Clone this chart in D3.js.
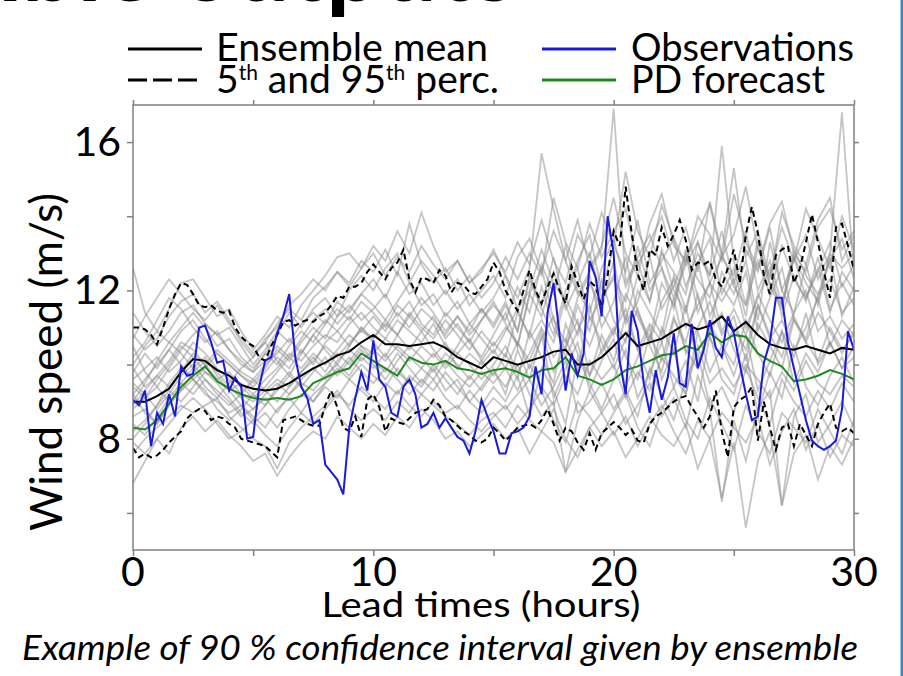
<!DOCTYPE html>
<html lang="en">
<head>
<meta charset="utf-8">
<script src="https://cdn.jsdelivr.net/npm/d3@7/dist/d3.min.js"></script>
<style>
  body { margin: 0; background: #fff; }
  svg text { font-family: Lato, "Open Sans", sans-serif; fill: #000; }
</style>
</head>
<body>
<div id="chart"></div>
<script>
  // ---- data (wind speed, m/s) ----
  // quarter-hour steps, 0..30 h
  const observations = [
    9.05, 8.9, 9.3, 7.8, 8.7, 8.4, 9.2, 8.6,
    9.95, 9.7, 9.75, 11.0, 11.05, 10.6, 10.05, 10.1,
    9.3, 9.65, 9.4, 8.0, 8.05, 9.4, 10.1, 10.2,
    10.85, 11.3, 11.9, 10.2, 9.4, 9.1, 8.4, 8.5,
    7.3, 7.1, 6.9, 6.5, 8.3, 9.1, 9.8, 9.3,
    10.65, 9.6, 9.4, 8.7, 8.6, 9.4, 9.6, 9.2,
    8.3, 8.4, 8.7, 8.3, 8.55, 8.3, 8.05, 7.95,
    7.6, 8.2, 9.05, 8.6, 8.2, 7.6, 7.6, 8.15,
    8.2, 8.3, 8.6, 9.95, 9.2, 11.4, 12.2, 10.8,
    9.3, 10.3, 9.7, 10.3, 12.8, 12.35, 11.3, 14.0,
    13.0, 10.1, 9.2, 11.45, 10.9, 9.5, 8.7, 9.85,
    9.05, 9.65, 10.85, 9.5, 9.4, 11.1, 9.9, 10.4,
    11.2, 10.45, 10.2, 11.3, 10.85, 10.0, 9.2, 8.5,
    8.6, 10.05, 10.6, 11.8, 11.8, 10.6, 9.9, 9.2,
    8.5, 7.95, 7.8, 7.7, 7.8, 7.95, 8.8, 10.9,
    10.4
  ];
  const perc95 = [
    11.0, 11.0, 10.95, 10.8, 10.55, 11.0, 11.5, 11.9,
    12.2, 12.15, 11.9, 11.6, 11.55, 11.6, 11.45, 11.4,
    11.45, 11.0, 10.75, 10.6, 10.5, 10.2, 10.1, 10.5,
    10.8, 11.15, 11.2, 11.05, 11.15, 11.2, 11.15, 11.3,
    11.4, 11.6, 11.85, 11.8, 12.1, 12.1, 12.2, 12.5,
    12.7, 12.5, 12.3, 12.6, 12.75, 13.1, 12.3, 11.95,
    12.35, 12.3, 12.2, 12.55, 12.4, 11.95, 12.2, 12.15,
    11.95, 11.9, 12.1, 12.3, 12.75, 12.5, 12.0, 11.7,
    11.45, 12.0, 12.55, 12.0, 11.65, 12.1, 12.45, 12.0,
    11.65, 12.65, 12.2, 11.75, 12.25, 12.1, 11.55, 12.4,
    13.6, 13.2, 14.8, 13.55, 12.45, 12.0, 13.1, 12.95,
    13.7, 13.2, 13.5, 13.9, 13.35, 12.55, 12.75, 12.7,
    12.8, 12.3, 12.1, 12.6, 13.1, 12.2, 13.5, 14.25,
    13.55, 12.4, 11.9, 12.95, 13.1, 13.2, 12.2, 12.6,
    13.3, 14.05, 13.3, 12.5, 11.8, 13.7, 13.8, 13.2,
    12.55
  ];
  const perc5 = [
    7.75, 7.5, 7.6, 7.5, 7.55, 7.7, 7.9, 8.05,
    8.2, 8.55, 8.7, 8.8, 8.75, 8.5, 8.6, 8.55,
    8.4, 8.3, 8.0, 7.95, 7.9, 7.85, 7.8, 7.65,
    7.5, 8.5, 8.55, 8.6, 8.5, 8.4, 8.35, 8.35,
    8.9, 9.3, 8.85, 8.3, 8.2, 8.6, 8.05, 9.05,
    9.2, 8.85, 8.2, 8.55, 8.45, 8.4, 8.55, 8.7,
    8.75, 8.8, 9.05, 8.9, 8.6, 8.5, 8.35, 8.2,
    8.1, 7.95, 7.9, 8.0, 8.3, 8.15, 7.95, 8.1,
    8.3, 8.35, 8.4, 8.3, 8.5, 8.8, 8.4, 7.95,
    8.3, 8.2, 7.9, 7.7, 8.15, 7.7, 8.15, 8.3,
    8.45, 8.3, 8.1, 8.25, 7.95, 7.9, 8.4, 8.6,
    8.7, 8.85, 9.0, 9.1, 9.15, 8.85, 8.6, 8.3,
    8.6, 9.3, 8.2, 7.5, 8.85, 9.05, 9.15, 9.4,
    7.95, 9.0, 8.3, 7.7, 8.3, 8.4, 7.8, 8.4,
    8.1, 7.8, 8.4, 8.7, 8.95, 8.3, 8.2, 8.3,
    8.15
  ];
  // half-hour steps, 0..30 h
  const ensembleMean = [
    9.0, 9.0, 9.15, 9.35, 9.8, 10.15, 10.1, 9.85, 9.7, 9.45,
    9.35, 9.3, 9.35, 9.5, 9.7, 9.9, 10.05, 10.25, 10.35, 10.6,
    10.8, 10.55, 10.55, 10.5, 10.55, 10.6, 10.45, 10.2, 10.05, 9.9,
    10.2, 10.1, 10.0, 10.1, 10.2, 10.35, 10.4, 10.0, 10.0, 10.2,
    10.5, 10.85, 10.5, 10.6, 10.7, 10.9, 11.1, 10.95, 11.05, 11.3,
    10.9, 11.15, 10.8, 10.55, 10.45, 10.4, 10.5, 10.4, 10.3, 10.45,
    10.4
  ];
  const pdForecast = [
    8.3, 8.25, 8.5, 8.95, 9.4, 9.7, 9.95, 9.55, 9.35, 9.2,
    9.1, 9.05, 9.1, 9.05, 9.15, 9.5, 9.65, 9.8, 9.9, 10.3,
    10.1, 9.9, 9.7, 10.2, 10.05, 10.0, 10.1, 9.9, 9.85, 9.75,
    9.85, 9.9, 9.8, 9.65, 9.85, 9.9, 10.2, 9.7, 9.6, 9.45,
    9.6, 9.85, 9.95, 10.1, 10.25, 10.3, 10.5, 10.4, 10.85, 10.6,
    10.8, 10.75, 10.3, 10.1, 9.95, 9.55, 9.6, 9.7, 9.85, 9.75,
    9.6
  ];
  // ensemble members (light grey), half-hour steps
  const member01 = [12.6, 11.4, 10.9, 11.5, 12.2, 12.3, 11.8, 11.3, 11.5, 10.9, 10.4, 10.8, 11.3, 11.0, 11.6, 12.0, 12.4, 12.9, 13.0, 12.6, 13.2, 12.8, 13.6, 13.0, 14.1, 13.2, 12.5, 12.8, 12.2, 12.5, 13.1, 12.4, 11.8, 12.6, 15.7, 14.2, 12.8, 11.9, 12.5, 13.1, 16.9, 12.2, 12.9, 13.5, 12.6, 11.8, 12.7, 13.3, 12.4, 15.9, 12.8, 11.6, 13.4, 12.1, 11.5, 12.9, 12.2, 11.7, 13.0, 16.8, 12.4];
  const member02 = [6.8, 7.4, 8.0, 7.6, 8.3, 8.6, 8.2, 8.5, 8.1, 7.8, 7.4, 7.6, 7.0, 7.5, 7.9, 8.2, 8.0, 8.6, 8.3, 8.0, 8.4, 8.1, 8.6, 8.3, 8.8, 8.5, 8.0, 8.2, 7.8, 8.1, 8.4, 8.0, 8.3, 7.6, 8.2, 7.9, 7.1, 7.7, 8.3, 7.8, 8.2, 7.5, 8.0, 8.6, 8.1, 7.8, 8.4, 7.2, 8.0, 6.4, 7.9, 5.6, 7.4, 8.2, 6.2, 7.6, 8.1, 6.9, 7.8, 7.3, 8.0];
  const member03 = [10.2, 10.6, 11.2, 11.8, 11.5, 11.0, 10.6, 10.9, 10.4, 10.0, 9.8, 10.3, 10.8, 11.4, 11.0, 11.5, 11.8, 11.3, 12.0, 12.4, 12.0, 12.6, 13.0, 12.2, 12.8, 12.4, 11.9, 12.3, 11.6, 12.0, 12.4, 11.8, 12.9, 13.4, 12.5, 13.6, 12.8, 13.9, 12.6, 13.2, 14.5, 13.0, 12.4, 13.8, 14.6, 13.2, 12.8, 13.6, 14.3, 12.9, 13.5, 14.8, 13.1, 12.4, 13.7, 12.8, 14.2, 13.4, 12.6, 14.0, 13.1];
  const member04 = [9.4, 9.1, 9.6, 10.0, 10.5, 10.2, 9.8, 9.6, 9.3, 9.5, 9.2, 9.6, 9.9, 10.3, 10.1, 10.5, 10.8, 10.6, 11.1, 11.4, 11.0, 10.7, 11.2, 10.9, 10.6, 11.1, 10.5, 10.3, 10.7, 10.1, 10.6, 10.2, 11.4, 10.8, 12.1, 11.0, 10.4, 11.6, 10.9, 12.3, 11.2, 10.6, 12.0, 11.4, 10.8, 12.4, 11.5, 12.8, 11.3, 12.1, 11.6, 12.5, 10.9, 11.8, 12.6, 11.2, 10.7, 11.9, 12.3, 11.4, 11.8];
  const member05 = [8.6, 8.8, 8.4, 8.9, 9.3, 9.6, 9.2, 9.0, 8.7, 8.9, 8.6, 8.3, 8.8, 9.1, 8.7, 9.2, 9.5, 9.9, 9.6, 10.0, 9.7, 9.4, 9.9, 9.5, 9.2, 9.6, 9.1, 8.8, 9.3, 8.9, 9.4, 9.0, 9.7, 8.6, 9.9, 9.3, 8.4, 10.2, 9.5, 8.8, 9.6, 10.4, 9.1, 9.8, 10.6, 9.4, 10.1, 9.0, 10.8, 9.6, 9.2, 10.3, 8.7, 9.8, 9.1, 10.5, 9.4, 8.9, 9.7, 10.2, 9.5];
  const member06 = [9.8, 10.3, 9.9, 10.4, 10.9, 11.2, 10.7, 10.3, 10.0, 9.7, 9.5, 9.9, 10.4, 10.1, 10.6, 11.0, 10.7, 11.3, 11.6, 11.2, 11.5, 11.9, 11.3, 11.7, 11.1, 10.8, 11.4, 11.0, 10.6, 11.2, 11.7, 11.1, 10.5, 11.9, 11.3, 12.5, 11.6, 10.8, 12.2, 11.5, 12.8, 11.2, 12.4, 11.7, 13.1, 12.0, 11.4, 12.7, 13.4, 11.9, 12.6, 11.3, 13.2, 12.2, 11.6, 12.9, 11.8, 12.5, 13.3, 12.1, 12.7];
  const member07 = [8.2, 8.5, 8.9, 9.3, 9.0, 9.4, 9.8, 9.5, 9.1, 8.7, 8.4, 8.7, 8.3, 8.8, 9.2, 9.0, 9.4, 9.1, 9.6, 9.3, 9.0, 9.5, 9.2, 9.7, 9.4, 9.9, 9.3, 9.6, 9.0, 8.7, 9.1, 8.8, 9.2, 9.6, 8.9, 9.4, 10.1, 8.7, 9.0, 9.5, 8.8, 9.3, 8.6, 9.9, 9.2, 8.5, 9.6, 10.3, 8.9, 9.4, 8.7, 9.9, 9.1, 8.4, 9.6, 9.0, 8.6, 9.3, 8.8, 9.5, 9.0];
  const member08 = [9.0, 9.5, 10.1, 10.6, 10.3, 9.9, 9.4, 9.1, 9.5, 9.9, 10.2, 10.6, 10.1, 9.7, 10.3, 10.8, 10.4, 10.0, 10.5, 11.0, 10.6, 10.2, 10.8, 11.3, 10.9, 10.4, 10.0, 10.5, 11.1, 10.7, 10.3, 10.9, 11.5, 10.7, 11.2, 10.6, 11.8, 11.1, 10.5, 11.4, 10.8, 11.9, 11.3, 10.6, 11.7, 12.3, 11.0, 11.6, 12.2, 10.9, 11.5, 10.8, 11.9, 11.2, 10.6, 11.4, 12.0, 10.9, 11.3, 10.7, 11.1];
  const member09 = [9.2, 8.7, 8.4, 8.9, 9.5, 9.9, 10.2, 9.7, 9.3, 8.9, 8.5, 8.9, 9.4, 9.8, 9.4, 9.8, 10.2, 9.7, 10.1, 10.5, 10.1, 9.8, 10.3, 9.9, 9.5, 10.0, 9.6, 9.2, 9.7, 9.3, 9.8, 9.4, 10.0, 9.2, 8.6, 9.0, 7.1, 8.5, 9.3, 8.7, 9.2, 8.4, 8.9, 9.5, 8.6, 9.1, 8.3, 9.7, 8.8, 6.3, 8.5, 7.4, 8.8, 9.3, 6.2, 8.6, 9.2, 7.9, 8.4, 9.0, 8.3];
  const member10 = [10.8, 10.4, 10.7, 11.3, 11.7, 11.9, 11.4, 11.7, 11.2, 10.6, 10.2, 10.7, 11.0, 11.6, 11.9, 12.3, 12.0, 12.5, 12.2, 12.8, 12.5, 13.1, 12.4, 13.8, 12.7, 12.2, 12.6, 12.0, 12.4, 11.8, 12.2, 12.9, 12.3, 13.0, 12.4, 14.5, 13.3, 12.6, 13.8, 12.9, 13.6, 14.2, 12.7, 13.3, 14.0, 12.8, 13.7, 12.5, 14.4, 13.0, 15.3, 12.9, 13.6, 12.3, 14.1, 13.2, 12.7, 13.9, 14.5, 12.8, 13.5];
  const member11 = [8.9, 9.3, 9.7, 9.4, 9.8, 10.3, 10.0, 9.6, 9.8, 9.4, 9.1, 9.4, 9.8, 10.2, 9.9, 10.3, 10.0, 10.4, 10.8, 10.5, 10.3, 10.7, 10.4, 10.1, 10.5, 10.2, 10.6, 9.9, 10.3, 10.0, 10.4, 9.9, 10.6, 10.1, 10.9, 9.8, 10.5, 11.2, 9.7, 10.4, 11.0, 10.2, 9.6, 10.8, 10.1, 11.3, 10.4, 9.9, 11.1, 10.5, 10.0, 11.2, 10.3, 9.7, 10.9, 10.2, 11.4, 10.0, 10.6, 9.9, 10.5];
  const member12 = [10.5, 9.8, 9.4, 9.9, 10.4, 10.8, 11.1, 10.8, 10.4, 10.1, 9.8, 10.1, 10.5, 10.2, 10.7, 11.2, 11.5, 11.1, 11.5, 11.9, 11.6, 11.2, 11.7, 12.2, 11.6, 11.9, 11.3, 11.7, 11.1, 11.5, 11.0, 11.6, 10.9, 12.3, 11.5, 10.8, 12.0, 12.6, 11.2, 11.8, 12.4, 11.1, 11.7, 12.9, 11.5, 12.1, 13.0, 11.4, 12.2, 11.7, 12.3, 11.0, 11.8, 12.6, 11.3, 12.4, 11.7, 12.9, 11.5, 12.2, 11.6];
  const member13 = [7.6, 8.0, 8.3, 8.6, 8.9, 8.7, 8.9, 9.1, 8.6, 8.3, 8.0, 7.8, 7.2, 7.9, 8.3, 8.6, 8.9, 9.3, 8.8, 8.5, 8.8, 8.5, 9.0, 8.7, 9.2, 8.9, 8.6, 8.4, 8.1, 8.5, 8.7, 8.3, 8.9, 8.5, 8.2, 8.8, 8.0, 7.5, 8.3, 8.7, 8.1, 8.6, 7.8, 8.4, 8.9, 8.2, 7.6, 8.5, 8.0, 8.7, 8.3, 7.9, 8.6, 7.3, 8.2, 8.8, 7.7, 8.4, 7.5, 8.1, 7.8];
  const member14 = [11.4, 10.9, 10.5, 10.9, 11.4, 11.6, 11.1, 10.8, 11.0, 10.5, 10.0, 10.4, 10.9, 10.6, 11.1, 11.4, 11.1, 11.7, 11.4, 11.9, 12.3, 11.8, 12.5, 11.9, 12.2, 11.6, 12.0, 11.5, 11.9, 11.4, 11.8, 12.4, 11.5, 12.0, 13.1, 12.2, 11.7, 12.8, 13.5, 12.0, 13.2, 12.5, 13.9, 12.2, 12.8, 13.4, 12.1, 13.0, 12.4, 13.6, 12.2, 13.1, 12.5, 13.7, 12.0, 12.8, 13.5, 12.3, 13.0, 12.6, 13.0];
  const member15 = [9.6, 9.9, 10.2, 9.8, 10.1, 10.6, 10.3, 9.9, 9.6, 9.2, 9.0, 9.3, 9.6, 9.4, 9.8, 10.1, 10.5, 10.2, 10.6, 10.9, 10.7, 11.1, 10.8, 11.4, 11.0, 10.7, 11.2, 10.8, 10.4, 10.9, 10.5, 11.0, 10.6, 9.9, 10.7, 11.3, 10.2, 10.9, 11.6, 10.3, 10.9, 11.5, 10.4, 11.1, 10.6, 11.8, 10.3, 11.0, 11.7, 10.8, 11.3, 10.1, 11.6, 10.7, 11.2, 10.4, 11.0, 11.8, 10.5, 11.2, 10.8];
  const member16 = [8.4, 8.1, 8.6, 9.1, 9.5, 9.2, 9.6, 9.3, 9.0, 8.6, 8.8, 9.1, 8.7, 9.2, 9.5, 9.3, 9.7, 10.0, 9.7, 10.2, 9.9, 10.3, 9.8, 9.5, 9.9, 9.6, 10.1, 9.7, 9.4, 9.8, 9.5, 9.9, 9.3, 10.0, 9.4, 8.9, 9.7, 9.2, 10.1, 9.6, 10.0, 9.1, 9.8, 9.3, 10.2, 9.7, 9.2, 10.5, 9.5, 9.9, 9.4, 10.0, 9.6, 9.1, 9.8, 9.3, 10.1, 9.5, 9.2, 9.7, 9.4];
  const member17 = [9.2, 9.6, 10.0, 10.4, 10.0, 9.6, 9.9, 10.3, 10.0, 9.7, 9.4, 9.8, 10.2, 9.9, 10.4, 10.0, 10.6, 10.9, 10.5, 11.0, 10.7, 11.2, 10.8, 10.4, 10.9, 11.3, 10.7, 11.1, 10.6, 10.2, 10.8, 11.4, 10.5, 11.9, 12.6, 11.2, 10.6, 11.8, 12.4, 11.0, 11.7, 12.9, 11.4, 10.7, 12.2, 11.6, 13.1, 11.8, 10.9, 12.5, 11.9, 12.8, 11.2, 13.3, 12.0, 11.4, 12.7, 11.6, 12.9, 11.3, 12.1];
  const member18 = [8.0, 8.4, 8.9, 9.5, 9.9, 9.6, 9.3, 8.8, 8.5, 8.8, 9.2, 8.9, 9.3, 9.7, 9.4, 9.0, 9.5, 9.8, 10.2, 9.8, 9.5, 9.9, 9.6, 9.2, 9.6, 9.3, 9.8, 9.4, 9.0, 9.4, 9.9, 9.2, 10.4, 9.6, 10.8, 9.1, 9.9, 10.6, 9.3, 10.1, 10.7, 9.4, 10.2, 11.0, 9.6, 10.4, 9.2, 10.9, 9.8, 10.5, 9.7, 10.8, 9.3, 10.1, 10.9, 9.5, 10.3, 9.8, 10.6, 9.9, 10.2];
  const member19 = [10.0, 10.5, 10.9, 10.6, 11.0, 11.4, 11.0, 10.5, 10.7, 10.2, 9.9, 10.3, 10.0, 10.5, 10.9, 10.6, 11.1, 11.5, 11.2, 11.7, 11.4, 11.0, 11.6, 11.3, 11.8, 11.4, 10.9, 11.3, 10.8, 11.2, 11.6, 11.2, 12.1, 11.4, 12.7, 11.9, 13.2, 12.0, 11.4, 12.6, 13.4, 12.1, 12.8, 11.7, 13.0, 12.5, 11.9, 13.3, 12.2, 12.9, 12.4, 13.6, 12.0, 12.8, 11.6, 13.1, 12.4, 11.9, 12.8, 13.4, 12.3];
  const member20 = [9.5, 9.2, 8.8, 9.2, 9.7, 10.0, 9.6, 9.2, 8.9, 9.2, 9.6, 9.3, 9.0, 9.4, 9.8, 10.2, 9.8, 10.3, 10.0, 10.4, 10.0, 9.6, 10.1, 10.5, 10.2, 9.8, 10.3, 10.0, 9.6, 10.1, 9.7, 10.3, 9.6, 10.9, 10.2, 9.5, 11.1, 10.3, 9.7, 10.8, 10.1, 11.3, 10.4, 9.6, 11.0, 10.3, 11.6, 10.0, 10.9, 11.4, 10.4, 9.8, 11.1, 10.5, 9.9, 11.2, 10.6, 10.1, 11.0, 10.4, 10.8];
  const member21 = [10.7, 11.3, 11.8, 12.3, 11.9, 11.5, 11.2, 11.6, 11.1, 10.7, 10.3, 10.6, 11.1, 11.5, 11.2, 11.8, 12.1, 12.5, 12.1, 12.6, 13.0, 12.4, 12.9, 12.5, 13.2, 12.7, 12.3, 12.8, 12.2, 12.6, 13.0, 12.5, 13.3, 12.7, 13.9, 12.8, 12.2, 13.5, 12.9, 14.1, 13.2, 15.2, 13.6, 12.9, 14.3, 13.4, 12.7, 14.0, 13.5, 12.8, 14.6, 13.3, 12.6, 13.8, 14.4, 13.0, 12.5, 13.7, 14.2, 13.1, 13.6];
  const member22 = [7.9, 7.6, 8.0, 8.4, 8.8, 9.1, 8.8, 8.4, 8.0, 8.2, 8.5, 8.1, 7.8, 8.3, 8.7, 8.4, 8.8, 9.2, 8.9, 9.4, 9.1, 8.8, 9.3, 8.9, 8.6, 9.0, 8.7, 8.9, 8.5, 8.2, 8.6, 8.9, 8.4, 8.8, 9.3, 8.5, 7.9, 9.0, 8.6, 8.1, 8.7, 9.2, 8.3, 7.8, 8.8, 9.4, 8.5, 8.0, 9.1, 8.4, 7.7, 8.9, 8.2, 7.6, 8.7, 8.3, 7.9, 8.8, 8.2, 7.6, 8.5];
  const member23 = [9.9, 9.4, 9.7, 10.1, 10.6, 10.4, 10.0, 10.4, 10.1, 9.8, 9.6, 10.0, 10.3, 10.7, 10.3, 10.8, 11.2, 10.9, 11.3, 10.9, 11.3, 10.9, 11.4, 11.0, 11.5, 11.2, 10.8, 11.3, 10.9, 11.5, 11.1, 11.7, 10.9, 12.4, 11.6, 12.9, 11.5, 12.2, 13.0, 11.8, 12.3, 11.7, 13.2, 12.0, 12.6, 11.5, 12.9, 12.3, 11.8, 13.0, 12.1, 11.6, 12.8, 11.9, 13.2, 12.3, 11.8, 12.6, 11.4, 12.5, 12.0];
  const member24 = [8.8, 9.1, 9.4, 9.0, 9.3, 9.8, 10.1, 9.8, 9.4, 9.1, 8.8, 9.2, 9.5, 9.2, 9.6, 9.9, 9.6, 10.1, 10.4, 10.1, 10.4, 10.1, 10.5, 10.2, 9.9, 10.3, 9.9, 10.3, 10.0, 9.6, 10.0, 10.5, 9.8, 10.3, 11.0, 10.2, 10.7, 9.9, 11.3, 10.6, 9.9, 10.7, 11.5, 10.5, 9.8, 11.2, 10.6, 11.9, 10.7, 10.2, 11.0, 10.4, 11.6, 10.8, 10.2, 11.3, 10.6, 11.4, 10.9, 10.3, 10.9];
  const members = [member01, member02, member03, member04, member05, member06, member07, member08,
                   member09, member10, member11, member12, member13, member14, member15, member16,
                   member17, member18, member19, member20, member21, member22, member23, member24];

  const xTicks = [0, 5, 10, 15, 20, 25, 30];
  const xTickLabels = [0, 10, 20, 30];
  const yTicks = [6, 8, 10, 12, 14, 16];
  const yTickLabels = [8, 12, 16];
  const legendLabels = ["Ensemble mean", "Observations", "PD forecast"];

  const W = 903, H = 676;
  const svg = d3.select("#chart").append("svg")
    .attr("width", W).attr("height", H);

  // cropped slide title above the chart (only its bottom edge shows)
  const title = svg.append("text")
    .attr("y", 1)
    .style("font-size", "98px").style("font-weight", "700");
  title.append("tspan").attr("class", "pre").text("Ensemble out");
  title.append("tspan").text("puts");
  const preW = title.select(".pre").node().getComputedTextLength();
  title.attr("x", 326 - preW);

  // right border of the slide
  svg.append("rect").attr("x", 900.5).attr("y", 0).attr("width", 2.5).attr("height", H)
    .attr("fill", "#3f87c4");

  const x = d3.scaleLinear().domain([0, 30]).range([133, 854]);
  const y = d3.scaleLinear().domain([5, 17]).range([550, 105]);

  // spread a series over the 0..30 h lead times
  const lineOf = arr => d3.line()
    .x((d, i) => x(i * 30 / (arr.length - 1)))
    .y(d => y(d))(arr);

  svg.append("clipPath").attr("id", "plotClip")
    .append("rect").attr("x", 133).attr("y", 105).attr("width", 721).attr("height", 445);

  const plot = svg.append("g").attr("clip-path", "url(#plotClip)");

  plot.selectAll("path.member").data(members).join("path")
    .attr("class", "member")
    .attr("d", d => lineOf(d))
    .attr("fill", "none")
    .attr("stroke", "#8c8c8c")
    .attr("stroke-opacity", 0.5)
    .attr("stroke-width", 1.8);

  [perc95, perc5].forEach(p => {
    plot.append("path").attr("d", lineOf(p))
      .attr("fill", "none").attr("stroke", "#000").attr("stroke-width", 2)
      .attr("stroke-dasharray", "6,4");
  });

  plot.append("path").attr("d", lineOf(ensembleMean))
    .attr("fill", "none").attr("stroke", "#000").attr("stroke-width", 2);
  plot.append("path").attr("d", lineOf(pdForecast))
    .attr("fill", "none").attr("stroke", "#1e8a1e").attr("stroke-width", 2);
  plot.append("path").attr("d", lineOf(observations))
    .attr("fill", "none").attr("stroke", "#1a1adb").attr("stroke-width", 2);

  // frame
  svg.append("rect").attr("x", 133).attr("y", 105).attr("width", 721).attr("height", 445)
    .attr("fill", "none").attr("stroke", "#808080").attr("stroke-width", 1.5);

  // axes (ticks only; the frame draws the spines)
  const styleAxis = g => {
    g.select(".domain").remove();
    g.selectAll(".tick line").attr("stroke", "#808080").attr("stroke-width", 1.5);
    g.selectAll(".tick text").remove();
  };
  svg.append("g").attr("transform", "translate(0,550)")
    .call(d3.axisBottom(x).tickValues(xTicks).tickSize(6)).call(styleAxis);
  svg.append("g").attr("transform", "translate(0,105)")
    .call(d3.axisTop(x).tickValues(xTicks).tickSize(5)).call(styleAxis);
  svg.append("g").attr("transform", "translate(133,0)")
    .call(d3.axisLeft(y).tickValues(yTicks).tickSize(6)).call(styleAxis);
  svg.append("g").attr("transform", "translate(854,0)")
    .call(d3.axisRight(y).tickValues(yTicks).tickSize(5)).call(styleAxis);

  svg.selectAll("text.xlab").data(xTickLabels).join("text")
    .attr("class", "xlab")
    .attr("x", d => x(d)).attr("y", 586)
    .attr("text-anchor", "middle")
    .style("font-size", "41px")
    .text(d => d);
  svg.selectAll("text.ylab").data(yTickLabels).join("text")
    .attr("class", "ylab")
    .attr("x", 121).attr("y", d => y(d) + 14)
    .attr("text-anchor", "end")
    .style("font-size", "41px")
    .text(d => d);

  svg.append("text")
    .attr("x", 481).attr("y", 617).attr("text-anchor", "middle")
    .attr("textLength", 319).attr("lengthAdjust", "spacingAndGlyphs")
    .style("font-size", "35px")
    .text("Lead times (hours)");

  svg.append("text")
    .attr("transform", "translate(62,362) rotate(-90)")
    .attr("text-anchor", "middle")
    .style("font-size", "44px")
    .text("Wind speed (m/s)");

  svg.append("text")
    .attr("x", 22).attr("y", 660)
    .attr("textLength", 836).attr("lengthAdjust", "spacingAndGlyphs")
    .style("font-size", "34px").style("font-style", "italic")
    .text("Example of 90 % confidence interval given by ensemble");

  // legend
  const leg = svg.append("g");
  leg.append("line").attr("x1", 128).attr("x2", 202).attr("y1", 49).attr("y2", 49)
    .attr("stroke", "#000").attr("stroke-width", 3);
  leg.append("line").attr("x1", 128).attr("x2", 202).attr("y1", 80).attr("y2", 80)
    .attr("stroke", "#000").attr("stroke-width", 3).attr("stroke-dasharray", "19,6");
  leg.append("line").attr("x1", 542).attr("x2", 616).attr("y1", 49).attr("y2", 49)
    .attr("stroke", "#1a1adb").attr("stroke-width", 3);
  leg.append("line").attr("x1", 542).attr("x2", 616).attr("y1", 80).attr("y2", 80)
    .attr("stroke", "#1e8a1e").attr("stroke-width", 3);

  leg.append("text").attr("x", 216).attr("y", 61)
    .attr("textLength", 272).attr("lengthAdjust", "spacingAndGlyphs")
    .style("font-size", "39px").text(legendLabels[0]);
  leg.append("text").attr("x", 631).attr("y", 61)
    .attr("textLength", 223).attr("lengthAdjust", "spacingAndGlyphs")
    .style("font-size", "39px").text(legendLabels[1]);
  leg.append("text").attr("x", 631).attr("y", 93)
    .attr("textLength", 194).attr("lengthAdjust", "spacingAndGlyphs")
    .style("font-size", "39px").text(legendLabels[2]);

  const perc = leg.append("text").attr("x", 216).attr("y", 93)
    .attr("textLength", 283).attr("lengthAdjust", "spacingAndGlyphs")
    .style("font-size", "39px");
  perc.append("tspan").text("5");
  perc.append("tspan").attr("dy", -13).style("font-size", "21px").text("th");
  perc.append("tspan").attr("dy", 13).text(" and 95");
  perc.append("tspan").attr("dy", -13).style("font-size", "21px").text("th");
  perc.append("tspan").attr("dy", 13).text(" perc.");
</script>
</body>
</html>
